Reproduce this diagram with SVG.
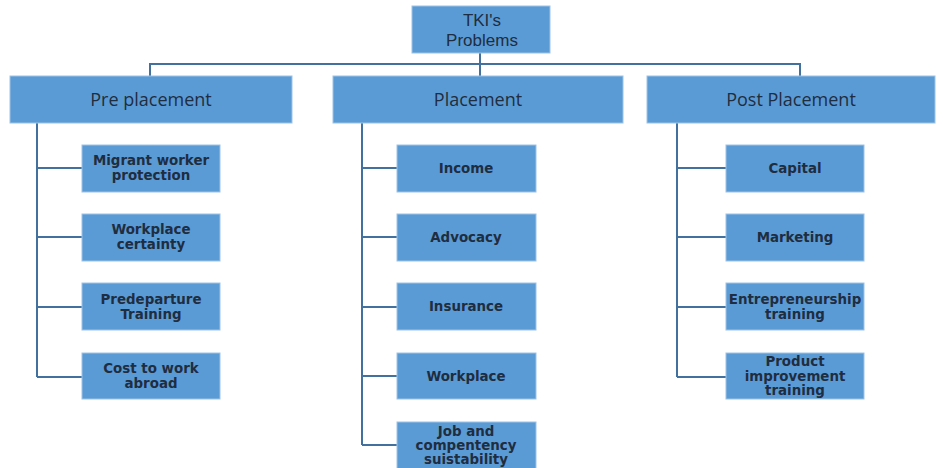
<svg xmlns="http://www.w3.org/2000/svg" width="943" height="468" viewBox="0 0 943 468">
<style>
.box{fill:#5B9BD5;stroke:#9DC3E6;stroke-width:1}
.hd{font-family:"Liberation Sans",Arial,sans-serif;font-size:17px;fill:#1F2D40;text-anchor:middle;dominant-baseline:central}
.hd2{font-family:"Open Sans","Liberation Sans",sans-serif;font-size:18px;fill:#1F2D40;text-anchor:middle;dominant-baseline:central}
.ch{font-family:"DejaVu Sans","Liberation Sans",sans-serif;font-size:13.4px;font-weight:bold;fill:#1F2D40;text-anchor:middle;dominant-baseline:central}
.ln{fill:none;stroke:#41719C;stroke-width:2}
</style>
<rect width="943" height="468" fill="#ffffff"/>
<g id="connectors">
<path class="ln" d="M480 53V64M150 76V64H800V76M480 64V76"/>
<path class="ln" d="M37 123V377M37 168H82M37 237H82M37 307H82M37 377H82"/>
<path class="ln" d="M362 123V445M362 168H397M362 237H397M362 307H397M362 376H397M362 445H397"/>
<path class="ln" d="M677 123V377M677 168H726M677 237H726M677 307H726M677 377H726"/>
</g>
<g id="root"><rect class="box" x="412" y="6" width="138" height="47"/><text class="hd" x="482" y="20">TKI's</text><text class="hd" x="482" y="40">Problems</text></g>
<g id="pre"><rect class="box" x="10" y="76" width="282" height="47"/><text class="hd2" x="151" y="99">Pre placement</text></g>
<g id="placement"><rect class="box" x="333" y="76" width="290" height="47"/><text class="hd2" x="478" y="99">Placement</text></g>
<g id="post"><rect class="box" x="647" y="76" width="288" height="47"/><text class="hd2" x="791" y="99">Post Placement</text></g>
<g id="pre1"><rect class="box" x="82" y="145" width="138" height="47"/><text class="ch" x="151" y="160">Migrant worker</text><text class="ch" x="151" y="175">protection</text></g>
<g id="pre2"><rect class="box" x="82" y="214" width="138" height="47"/><text class="ch" x="151" y="229">Workplace</text><text class="ch" x="151" y="244">certainty</text></g>
<g id="pre3"><rect class="box" x="82" y="283" width="138" height="47"/><text class="ch" x="151" y="299">Predeparture</text><text class="ch" x="151" y="314">Training</text></g>
<g id="pre4"><rect class="box" x="82" y="353" width="138" height="46"/><text class="ch" x="151" y="368">Cost to work</text><text class="ch" x="151" y="383">abroad</text></g>
<g id="pl1"><rect class="box" x="397" y="145" width="139" height="47"/><text class="ch" x="466" y="168">Income</text></g>
<g id="pl2"><rect class="box" x="397" y="214" width="139" height="47"/><text class="ch" x="466" y="237">Advocacy</text></g>
<g id="pl3"><rect class="box" x="397" y="283" width="139" height="47"/><text class="ch" x="466" y="306">Insurance</text></g>
<g id="pl4"><rect class="box" x="397" y="353" width="139" height="46"/><text class="ch" x="466" y="376">Workplace</text></g>
<g id="pl5"><rect class="box" x="397" y="422" width="139" height="50"/><text class="ch" x="466" y="431">Job and</text><text class="ch" x="466" y="445">compentency</text><text class="ch" x="466" y="459">suistability</text></g>
<g id="po1"><rect class="box" x="726" y="145" width="138" height="47"/><text class="ch" x="795" y="168">Capital</text></g>
<g id="po2"><rect class="box" x="726" y="214" width="138" height="47"/><text class="ch" x="795" y="237">Marketing</text></g>
<g id="po3"><rect class="box" x="726" y="283" width="138" height="47"/><text class="ch" x="795" y="299">Entrepreneurship</text><text class="ch" x="795" y="314">training</text></g>
<g id="po4"><rect class="box" x="726" y="353" width="138" height="46"/><text class="ch" x="795" y="361">Product</text><text class="ch" x="795" y="376">improvement</text><text class="ch" x="795" y="390">training</text></g>
</svg>
